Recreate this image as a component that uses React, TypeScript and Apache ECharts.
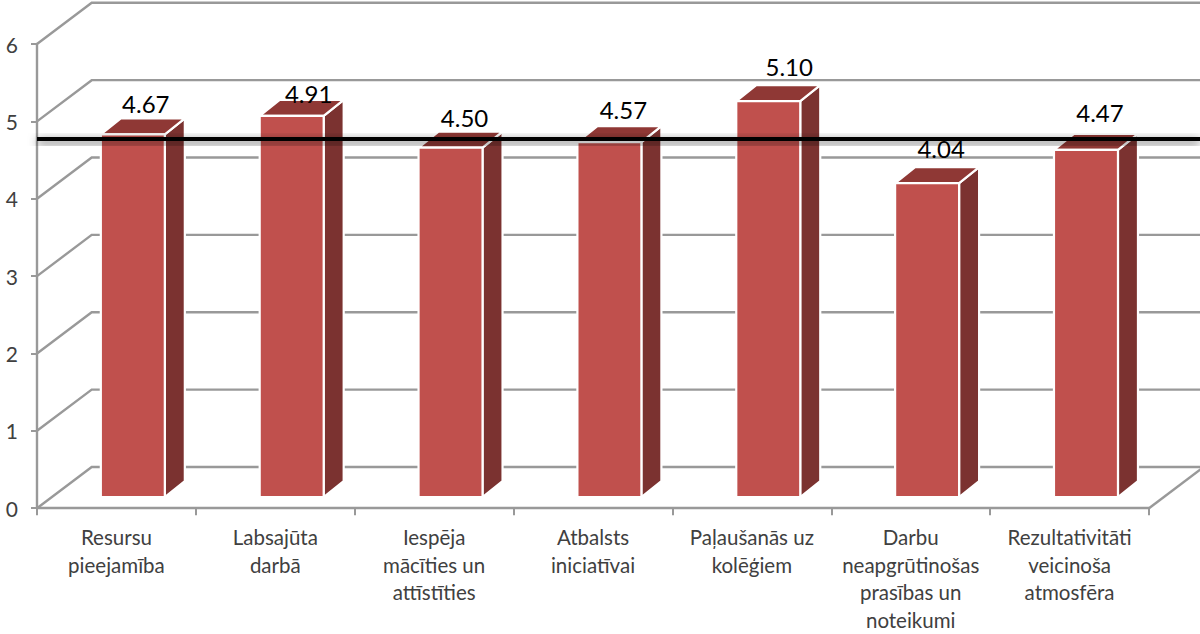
import React, { useEffect, useRef } from "react";
import * as echarts from "echarts";

const categories = [
  "Resursu\npieejamība",
  "Labsajūta\ndarbā",
  "Iespēja\nmācīties un\nattīstīties",
  "Atbalsts\niniciatīvai",
  "Paļaušanās uz\nkolēģiem",
  "Darbu\nneapgrūtinošas\nprasības un\nnoteikumi",
  "Rezultativitāti\nveicinoša\natmosfēra",
];
const values = [4.67, 4.91, 4.5, 4.57, 5.1, 4.04, 4.47];
const valueLabels = ["4.67", "4.91", "4.50", "4.57", "5.10", "4.04", "4.47"];
const averageValue = 4.61;
const yTicks = [0, 1, 2, 3, 4, 5, 6];

// Manual label placement of the original, relative to the bar's top back edge.
const labelNudgeX = [3, 7, 4, 4, 11, 4, 4];
const labelNudgeY = [-14.5, -6.5, -14.5, -16.5, -18.5, -18.5, -21.5];

const FONT = "Lato, Carlito, sans-serif";
const AXIS = "#999999";
const WALL_DX = 54.7;
const WALL_DY = -41.2;
const PLANE_DX = 16.4;
const PLANE_DY = -12.5;
const FOOT = 1.5;
const BAR_W = 64;
const SIDE_DX = 20;
const SIDE_DY = -16;

function wallItem(_p: any, api: any) {
  const v = api.value(1);
  const [x0, y] = api.coord([0, v]);
  const half = api.size([1, 0])[0] / 2;
  const x1 = api.coord([categories.length - 1, v])[0] + half;
  const left = x0 - half;
  const children: any[] = [
    {
      type: "polyline",
      shape: {
        points: [
          [left, y],
          [left + WALL_DX, y + WALL_DY],
          [x1 + WALL_DX, y + WALL_DY],
        ],
      },
      style: { stroke: AXIS, lineWidth: 2.4, fill: "none" },
    },
  ];
  if (v === 0) {
    children.push({
      type: "line",
      shape: { x1, y1: y, x2: x1 + WALL_DX, y2: y + WALL_DY },
      style: { stroke: AXIS, lineWidth: 2.4 },
    });
  }
  return { type: "group", children };
}

function barItem(_p: any, api: any) {
  const i = api.value(0);
  const [cx, top0] = api.coord([i, api.value(1)]);
  const bottom0 = api.coord([i, 0])[1];
  const l = cx + PLANE_DX - BAR_W / 2;
  const r = l + BAR_W;
  const t = top0 + PLANE_DY;
  const b = bottom0 + PLANE_DY + FOOT;
  const border = { stroke: "#ffffff", lineWidth: 2.2, lineJoin: "round" };
  return {
    type: "group",
    children: [
      {
        type: "polygon",
        shape: { points: [[r, t], [r + SIDE_DX, t + SIDE_DY], [r + SIDE_DX, b + SIDE_DY], [r, b]] },
        style: { fill: "#7b3230", ...border },
      },
      {
        type: "polygon",
        shape: { points: [[l, t], [l + SIDE_DX, t + SIDE_DY], [r + SIDE_DX, t + SIDE_DY], [r, t]] },
        style: { fill: "#8f3835", ...border },
      },
      {
        type: "rect",
        shape: { x: l, y: t, width: BAR_W, height: b - t },
        style: { fill: "#c0504d", ...border },
      },
    ],
  };
}

function averageItem(_p: any, api: any) {
  const v = api.value(1);
  const [cx, y0] = api.coord([0, v]);
  const half = api.size([1, 0])[0] / 2;
  const y = y0 + PLANE_DY;
  const x = cx - half;
  return {
    type: "rect",
    shape: { x, y: y - 2, width: api.getWidth() - x, height: 4 },
    style: {
      fill: "#000000",
      shadowBlur: 10,
      shadowColor: "rgba(0,0,0,0.7)",
      shadowOffsetY: 3,
    },
  };
}

function labelItem(_p: any, api: any) {
  const i = api.value(0);
  const [cx, top0] = api.coord([i, api.value(1)]);
  return {
    type: "text",
    style: {
      text: valueLabels[i],
      x: cx + PLANE_DX + SIDE_DX / 2 + labelNudgeX[i],
      y: top0 + PLANE_DY + SIDE_DY + labelNudgeY[i],
      align: "center",
      verticalAlign: "middle",
      fontFamily: FONT,
      fontSize: 24,
      fill: "#000000",
    },
  };
}

export default function App() {
  const ref = useRef<HTMLDivElement>(null);
  useEffect(() => {
    const chart = echarts.init(ref.current!, null, { renderer: "svg" });
    chart.setOption({
      animation: false,
      backgroundColor: "#ffffff",
      grid: { left: 37, right: 51, top: 44, bottom: 124 },
      xAxis: {
        type: "category",
        data: categories,
        axisLine: { show: true, lineStyle: { color: AXIS, width: 2.4 } },
        axisTick: { show: true, alignWithLabel: false, length: 7, lineStyle: { color: AXIS, width: 2 } },
        axisLabel: {
          interval: 0,
          margin: 15,
          fontFamily: FONT,
          fontSize: 20.5,
          lineHeight: 27.7,
          color: "#404040",
          hideOverlap: false,
        },
      },
      yAxis: {
        type: "value",
        min: 0,
        max: 6,
        interval: 1,
        axisLine: { show: true, lineStyle: { color: AXIS, width: 2.4 } },
        axisTick: { show: true, length: 6, lineStyle: { color: AXIS, width: 2 } },
        splitLine: { show: false },
        axisLabel: { margin: 19, fontFamily: FONT, fontSize: 21, color: "#404040" },
      },
      series: [
        {
          type: "custom",
          z: 1,
          clip: false,
          silent: true,
          renderItem: wallItem,
          data: yTicks.map((v) => [0, v]),
        },
        {
          type: "custom",
          z: 3,
          clip: false,
          silent: true,
          renderItem: barItem,
          data: values.map((v, i) => [i, v]),
        },
        {
          type: "custom",
          z: 4,
          clip: false,
          silent: true,
          renderItem: averageItem,
          data: [[0, averageValue]],
        },
        {
          type: "custom",
          z: 5,
          clip: false,
          silent: true,
          renderItem: labelItem,
          data: values.map((v, i) => [i, v]),
        },
      ],
    });
    return () => chart.dispose();
  }, []);
  return <div ref={ref} style={{ position: "absolute", left: 0, top: 0, width: 1200, height: 634 }} />;
}
